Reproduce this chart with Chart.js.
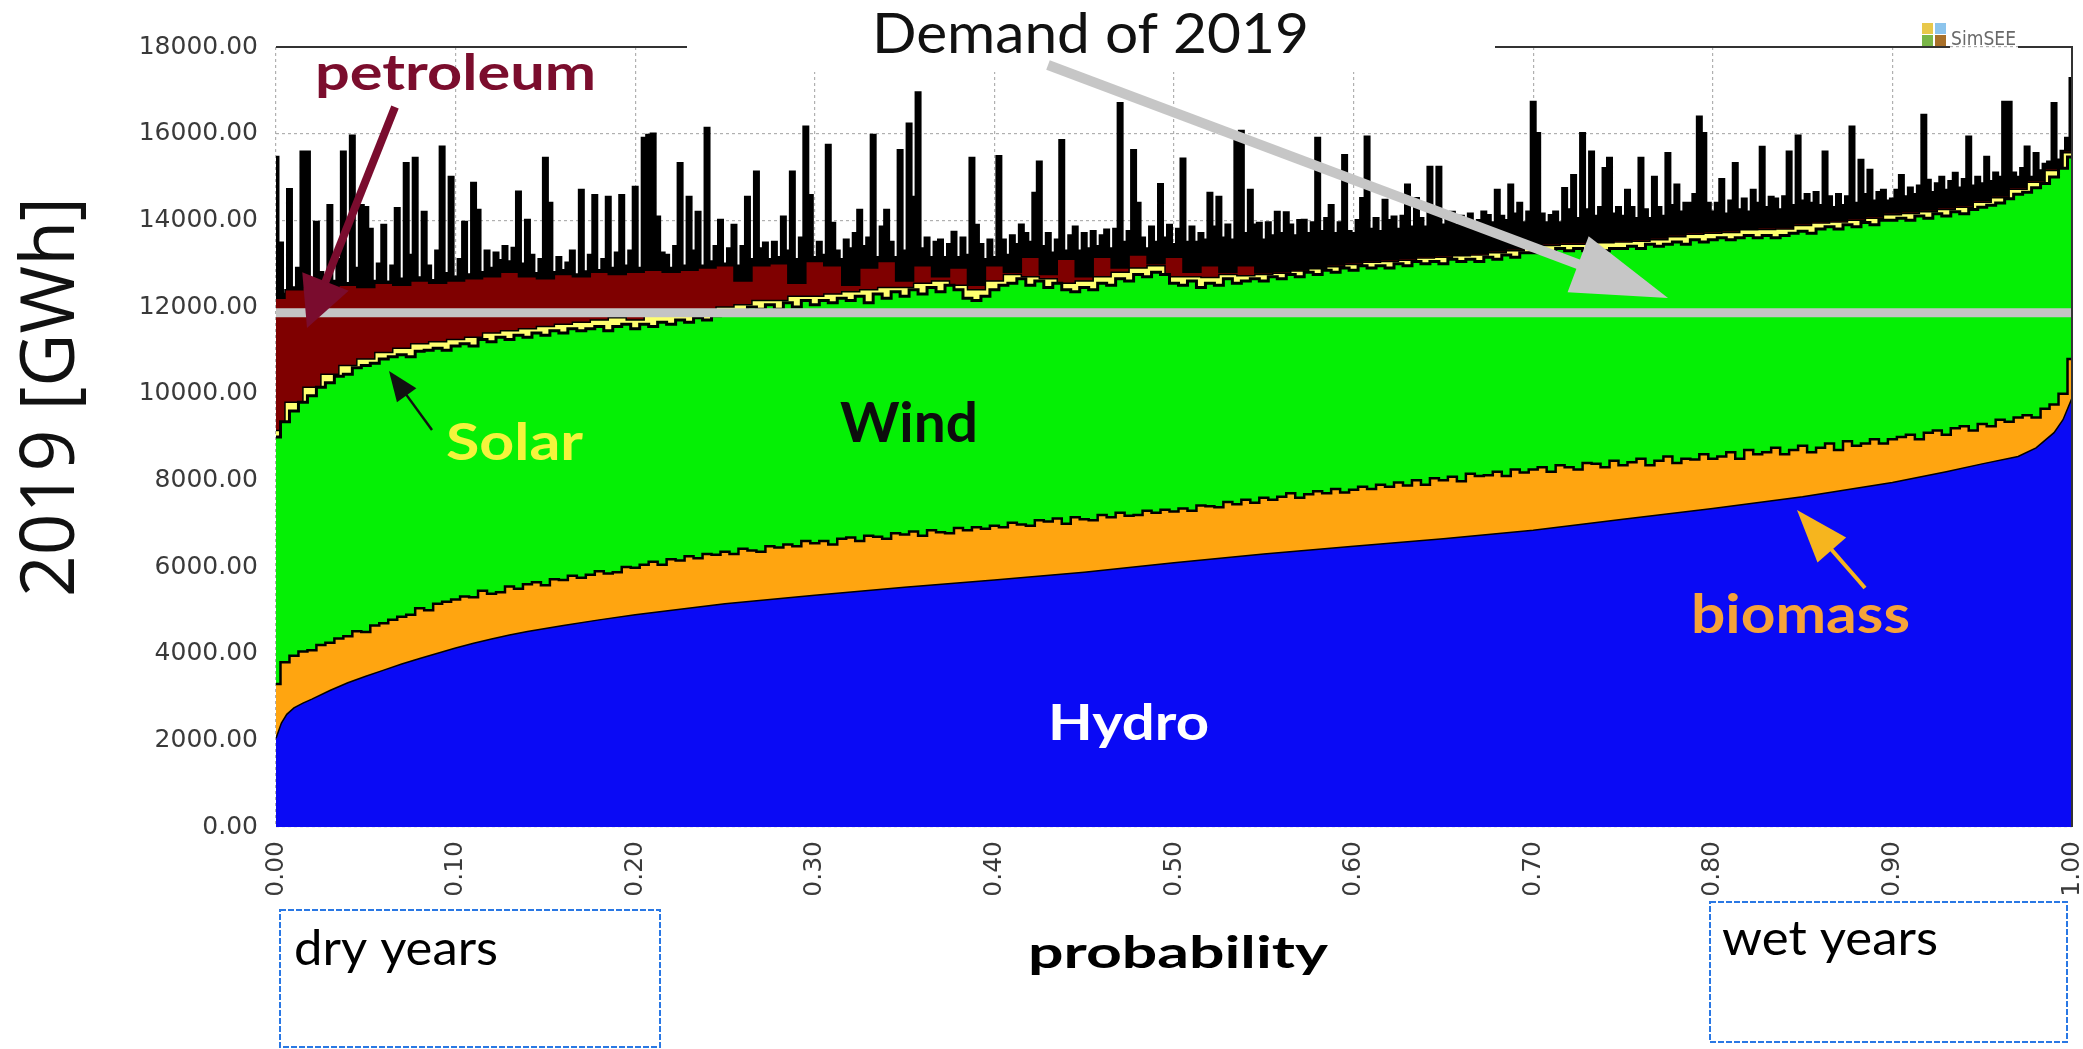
<!DOCTYPE html>
<html><head><meta charset="utf-8">
<script src="https://cdn.jsdelivr.net/npm/chart.js@4.4.1/dist/chart.umd.min.js"></script>
<style>html,body{margin:0;padding:0;background:#fff;}#wrap{width:2083px;height:1049px;}</style>
</head><body><div id="wrap"><canvas id="c" width="2083" height="1049"></canvas></div>
<script>
// ---- axis ticks ----
const probTicks = [0,0.1,0.2,0.3,0.4,0.5,0.6,0.7,0.8,0.9,1.0];
const gwhTicks = [0,2000,4000,6000,8000,10000,12000,14000,16000,18000];
const demand2019 = 11870;

// ---- hydro (cumulative top, GWh) at irregular probabilities ----
const hydroProb = [0,0.003,0.006,0.01,0.015,0.02,0.03,0.04,0.05,0.06,0.07,0.08,0.09,0.10,0.11,0.12,0.13,0.14,0.16,0.18,0.20,0.25,0.30,0.35,0.40,0.45,0.50,0.55,0.60,0.65,0.70,0.75,0.80,0.85,0.90,0.93,0.95,0.97,0.98,0.99,0.995,1.0];
const hydroTop = [2050,2400,2600,2750,2860,2950,3150,3330,3480,3620,3760,3890,4010,4130,4240,4340,4430,4510,4650,4780,4900,5150,5350,5530,5700,5880,6100,6300,6480,6650,6850,7100,7350,7620,7950,8200,8380,8550,8750,9100,9400,9900];

// ---- hydro + biomass top (201 probabilities, step 0.005) ----
const biomassTop = [
3300,3800,3950,4050,4080,4200,4250,4350,4400,4520,4500,4650,4700,4780,4850,4900,5050,5000,5150,5200,
5250,5320,5300,5450,5380,5420,5550,5500,5600,5650,5580,5720,5700,5800,5750,5820,5900,5850,5880,6000,
5980,6050,6120,6050,6180,6150,6250,6200,6300,6280,6350,6300,6420,6380,6350,6480,6450,6520,6480,6600,
6550,6600,6520,6650,6680,6600,6720,6700,6650,6780,6750,6820,6720,6850,6800,6780,6900,6850,6920,6880,
6950,6920,7020,6980,6950,7080,7050,7120,7000,7150,7100,7080,7200,7150,7250,7180,7200,7300,7250,7320,
7280,7350,7300,7420,7400,7380,7500,7450,7550,7480,7600,7550,7620,7700,7600,7680,7750,7700,7800,7720,
7780,7850,7800,7900,7850,7950,7880,8000,7900,8050,8000,8080,7980,8150,8100,8120,8200,8100,8250,8180,
8250,8300,8200,8350,8300,8250,8400,8380,8300,8450,8350,8420,8500,8350,8450,8550,8400,8500,8480,8600,
8500,8550,8650,8500,8700,8600,8650,8750,8600,8700,8800,8650,8750,8850,8700,8900,8800,8850,8950,8850,
8950,9000,9050,8950,9100,9150,9050,9200,9250,9150,9300,9250,9400,9350,9450,9500,9450,9650,9750,10000,
10800];

// ---- + wind top (201 probabilities, step 0.005) ----
const windTop = [
9000,9350,9600,9800,9950,10150,10250,10400,10450,10600,10650,10700,10800,10850,10900,10850,10980,11000,11050,11000,
11100,11150,11100,11250,11200,11300,11250,11350,11300,11400,11350,11450,11400,11500,11450,11500,11550,11450,11550,11600,
11500,11600,11550,11650,11600,11700,11650,11750,11700,11800,11850,11900,11850,12000,11950,12050,11950,12100,12000,12150,
12050,12150,12100,12200,12150,12250,12100,12300,12200,12350,12250,12400,12300,12450,12350,12500,12400,12200,12150,12250,
12400,12500,12550,12650,12500,12600,12450,12550,12400,12350,12450,12400,12550,12500,12650,12600,12750,12700,12800,12750,
12550,12500,12600,12450,12550,12500,12650,12550,12600,12650,12600,12700,12650,12750,12700,12800,12750,12850,12800,12900,
12850,12950,12900,12950,12900,13000,12950,13050,13000,13050,13000,13100,13050,13100,13050,13150,13100,13200,13150,13250,
13250,13300,13250,13350,13300,13350,13300,13350,13300,13350,13350,13400,13350,13450,13400,13450,13500,13450,13550,13500,
13550,13600,13550,13600,13650,13600,13650,13600,13650,13700,13750,13700,13800,13850,13800,13900,13850,13950,13900,14000,
14000,14050,14000,14100,14050,14150,14100,14200,14150,14250,14300,14350,14400,14500,14600,14650,14750,14850,15000,15200,
15460];

// ---- + solar top (101 probabilities, step 0.01) ----
const solarTop = [
9150,9800,10150,10450,10650,10800,10950,11050,11150,11200,
11250,11300,11400,11450,11500,11550,11600,11650,11700,11750,
11700,11800,11800,11900,11900,12000,12050,12150,12150,12250,
12250,12300,12350,12400,12450,12450,12550,12600,12500,12400,
12600,12750,12700,12650,12550,12600,12700,12800,12900,12950,
12700,12700,12680,12750,12720,12750,12780,12830,12880,12930,
12980,13030,13050,13080,13130,13150,13180,13200,13250,13300,
13400,13420,13450,13450,13480,13500,13520,13550,13620,13680,
13700,13720,13780,13790,13800,13880,13940,13960,14000,14050,
14130,14160,14200,14250,14300,14420,14520,14720,14880,15150,
15560];

// ---- + petroleum top (101 probabilities, step 0.01) ----
const petroleumTop = [
12200,12400,12450,12400,12500,12450,12550,12500,12600,12550,
12600,12650,12700,12800,12700,12650,12750,12700,12800,12750,
12800,12850,12800,12850,12900,12950,12600,12950,13000,12550,
13050,12950,12500,12900,13050,12600,12950,12700,12900,12500,
12950,12800,13150,12750,13100,12700,13150,12900,13200,13000,
13150,12800,12950,12800,12950,12790,12820,12870,12920,12970,
13020,13070,13090,13120,13170,13190,13220,13240,13290,13340,
13440,13460,13490,13490,13520,13540,13560,13590,13660,13720,
13740,13760,13820,13830,13840,13920,13980,14000,14040,14090,
14170,14200,14240,14290,14340,14460,14560,14760,14920,15190,
15600];

// ---- total generation (401 probabilities, step 0.0025) ----
const totalTop = [
15460,13480,12300,14720,12450,12900,15580,15580,12500,13960,12800,12450,14350,12600,13100,15580,12550,15950,12900,14350,
14300,13800,12600,13000,13890,12580,12950,14280,12650,15320,13200,15440,12680,14190,12950,12620,13300,15700,12780,15000,
12700,13100,13960,12750,14860,14240,12800,13300,12900,13250,13080,13400,13050,13360,14660,13000,14010,13200,12780,13100,
15440,14400,12800,13150,12850,13020,13300,12750,14700,12820,13200,14580,12850,13100,14540,12900,13250,14580,12950,13300,
14770,12900,15900,15970,16000,14080,13250,13200,12900,13400,15320,12950,14540,13300,14190,12950,16130,13050,13400,14010,
13000,13350,13890,12950,13400,14540,13100,15120,13350,13480,13100,13500,13150,14080,13300,15120,13100,13600,16160,14580,
13150,13500,13200,15740,13940,13300,13100,13550,13350,13700,14240,13400,13600,15970,13150,13850,14240,13500,13150,15620,
13300,16230,14540,16950,13350,13600,13150,13500,13550,13150,13450,13730,13150,13600,13200,15440,13890,13450,13100,13550,
13150,15480,13550,13200,13650,13450,13900,13700,13500,14630,15350,13400,13700,13250,13550,15850,13300,13650,13850,13300,
13700,13350,13750,13400,13650,13780,13350,13800,16700,13500,13750,15620,14400,13600,13350,13850,13500,14830,13600,13890,
13450,13800,15420,13500,13850,13500,13700,13550,14630,13850,14540,13600,13900,13550,16000,16060,13700,14700,13900,13940,
13550,13950,13650,14190,13700,14180,13900,13650,14000,14010,13700,13950,15900,13750,14050,14350,13700,13950,15500,13750,
13700,14000,14510,15930,13800,14050,13750,14470,14000,14080,13800,14100,14820,13850,14510,14050,13850,15230,14100,15230,
13900,14050,14190,13900,14100,13850,14150,13900,14000,14200,14120,13950,14700,14100,14000,14820,14150,14400,13950,14200,
16730,16010,14150,13950,14120,14200,13950,14740,14250,15040,14050,16010,14250,15580,14100,14300,15200,15440,14150,14300,
14100,14700,14300,14050,15440,14250,14050,15000,14300,14100,15550,14350,14820,14200,14400,14400,14600,16390,16010,14400,
14200,14400,14950,14150,14450,15320,14250,14500,14200,14700,14400,15690,14300,14540,14500,14250,14550,15580,14350,15950,
14450,14600,14400,14650,14350,15580,14550,14300,14600,14350,14550,16160,14400,15390,14600,15160,14450,14650,14700,14450,
14500,14700,15040,14550,14750,14600,14800,16430,14930,14650,14850,15000,14700,14900,15090,14750,14950,15930,14800,15000,
14850,15460,14900,15100,15000,16730,16730,15100,15000,15200,15700,15000,15550,15150,15300,15350,16700,15400,15600,15900,
17280];

// evenly spaced probability positions for a series of n samples
function probGrid(n){ const a=[]; for(let i=0;i<n;i++) a.push(i/(n-1)); return a; }
function pts(xs, ys){ return ys.map((y,i)=>({x:xs[i], y:y})); }

const pFine = probGrid(totalTop.length);
const pMid = probGrid(windTop.length);
const pCoarse = probGrid(solarTop.length);

function fitText(ctx, txt, x, y, w, font, color, rot){
  ctx.save(); ctx.font=font; ctx.fillStyle=color; ctx.textAlign='left'; ctx.textBaseline='alphabetic';
  const m = ctx.measureText(txt).width;
  ctx.translate(x,y); if(rot) ctx.rotate(rot); ctx.scale(w/m,1); ctx.fillText(txt,0,0); ctx.restore();
}
function arrow(ctx,x0,y0,x1,y1,w,hl,hw,color){
  const a=Math.atan2(y1-y0,x1-x0), c=Math.cos(a), s=Math.sin(a);
  const bx=x1-hl*c, by=y1-hl*s;
  ctx.save(); ctx.strokeStyle=color; ctx.fillStyle=color; ctx.lineWidth=w; ctx.lineCap='butt';
  ctx.beginPath(); ctx.moveTo(x0,y0); ctx.lineTo(bx+c*2,by+s*2); ctx.stroke();
  ctx.beginPath(); ctx.moveTo(x1,y1); ctx.lineTo(bx-hw*s,by+hw*c); ctx.lineTo(bx+hw*s,by-hw*c); ctx.closePath(); ctx.fill();
  ctx.restore();
}

const overlay = {
  id:'overlay',
  afterDraw(chart){
    const ctx=chart.ctx; const {left,right,top,bottom}=chart.chartArea;
    ctx.save();
    ctx.fillStyle='#fff'; ctx.fillRect(688,0,807,72);
    ctx.strokeStyle='#333'; ctx.lineWidth=2; ctx.beginPath();
    ctx.moveTo(left,top); ctx.lineTo(687,top);
    ctx.moveTo(1495,top); ctx.lineTo(1950,top);
    ctx.moveTo(2018,top); ctx.lineTo(right,top);
    ctx.moveTo(right,top-1); ctx.lineTo(right,bottom);
    ctx.stroke();
    // logo
    ctx.fillStyle='#e8c84a'; ctx.fillRect(1922,23,11,11);
    ctx.fillStyle='#8cc4ec'; ctx.fillRect(1935,23,11,11);
    ctx.fillStyle='#7ab648'; ctx.fillRect(1922,35,11,11);
    ctx.fillStyle='#a8702a'; ctx.fillRect(1935,35,11,11);
    fitText(ctx,'SimSEE',1951,45,65,'400 19px "DejaVu Sans"','#6a6a6a');
    fitText(ctx,'Demand of 2019',872,53,437,'400 56px Lato','#111');
    // arrows
    arrow(ctx,1048,65,1668,298,10,96,30,'#c6c6c6');
    arrow(ctx,395,107,307,328,8,50,25,'#7a0c2e');
    arrow(ctx,432,430,389,371,2.5,30,12,'#111');
    arrow(ctx,1865,588,1797,510,4,53,19,'#f6b51e');
    // labels
    fitText(ctx,'petroleum',315,90,281,'700 50px Lato','#7b0d2d');
    fitText(ctx,'Solar',446,460,137,'700 51px Lato','#f4f43c');
    fitText(ctx,'Wind',840,442,138,'700 55px Lato','#0d0d0d');
    fitText(ctx,'Hydro',1048,740,161,'700 49px Lato','#ffffff');
    fitText(ctx,'biomass',1691,633,219,'700 54px Lato','#f5a33a');
    fitText(ctx,'probability',1028,968,300,'700 43px Lato','#000');
    fitText(ctx,'2019 [GWh]',74,597,400,'400 75px "Open Sans"','#111',-Math.PI/2);
    // boxes
    ctx.setLineDash([6,2]); ctx.strokeStyle='#2a78e4'; ctx.lineWidth=2;
    ctx.strokeRect(280,910,380,137); ctx.strokeRect(1710,902,357,140);
    ctx.setLineDash([]);
    fitText(ctx,'dry years',294,965,204,'400 48px Lato','#000');
    fitText(ctx,'wet years',1722,955,216,'400 48px Lato','#000');
    ctx.restore();
  }
};

const area = (label, xs, ys, fillColor, bw, step) => ({
  label, data: pts(xs, ys), backgroundColor: fillColor, borderColor:'#000', borderWidth:bw,
  fill:'origin', pointRadius:0, tension:0, stepped: step ? 'middle' : false
});

const tickFont = {family:'DejaVu Sans', size:25};
new Chart(document.getElementById('c'), {
  type:'line',
  data:{ datasets:[
    {label:'Demand of 2019', data:[{x:0,y:demand2019},{x:1,y:demand2019}], borderColor:'#c4c4c4', borderWidth:9, fill:false, pointRadius:0},
    area('Hydro', hydroProb, hydroTop, '#0a0af5', 1.5, false),
    area('Biomass', pMid, biomassTop, '#ffa510', 2.5, true),
    area('Wind', pMid, windTop, '#05f005', 3, true),
    area('Solar', pCoarse, solarTop, '#ffff70', 1.5, true),
    area('Petroleum', pCoarse, petroleumTop, '#7f0000', 1.5, true),
    area('Total', pFine, totalTop, '#000000', 2.5, true)
  ]},
  options:{
    responsive:false, devicePixelRatio:1, animation:false,
    layout:{padding:{left:0,right:11,top:47,bottom:0}},
    plugins:{legend:{display:false}, tooltip:{enabled:false}},
    scales:{
      x:{type:'linear', min:0, max:1,
        afterFit(s){ s.height=222; s.paddingLeft=0; s.paddingRight=0; },
        afterBuildTicks(s){ s.ticks=probTicks.map(v=>({value:v})); },
        ticks:{autoSkip:false, minRotation:90, maxRotation:90, padding:14, font:tickFont, color:'#3a3a3a', callback:v=>Number(v).toFixed(2)},
        grid:{color:'rgba(150,150,150,0.75)', lineWidth:1.2, drawTicks:false},
        border:{display:false, dash:[3,3]}, z:1},
      y:{min:0, max:18000,
        afterFit(s){ s.width=276; },
        afterBuildTicks(s){ s.ticks=gwhTicks.map(v=>({value:v})); },
        ticks:{padding:18, font:tickFont, color:'#3a3a3a', callback:v=>Number(v).toFixed(2)},
        grid:{color:'rgba(150,150,150,0.75)', lineWidth:1.2, drawTicks:false},
        border:{display:false, dash:[3,3]}, z:1}
    }
  },
  plugins:[overlay]
});
</script></body></html>
